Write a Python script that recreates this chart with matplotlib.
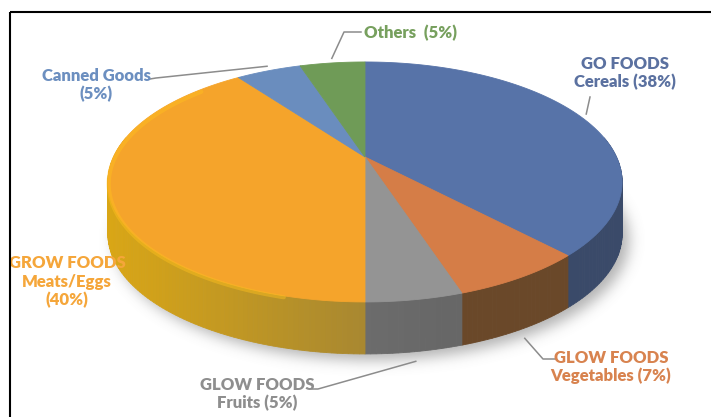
import numpy as np
import matplotlib.pyplot as plt
from matplotlib.patches import Polygon, Rectangle
from matplotlib.path import Path
from matplotlib.colors import to_rgb

# ---- data -------------------------------------------------------------
categories = ["GO FOODS Cereals", "GLOW FOODS Vegetables", "GLOW FOODS Fruits",
              "GROW FOODS Meats/Eggs", "Canned Goods", "Others"]
shares = [38, 7, 5, 40, 5, 5]
label_formats = ["GO FOODS\nCereals ({}%)", "GLOW FOODS\nVegetables ({}%)",
                 "GLOW FOODS\nFruits ({}%)", "GROW FOODS\nMeats/Eggs\n({}%)",
                 "Canned Goods\n({}%)", "Others  ({}%)"]

# ---- style ------------------------------------------------------------
top_colors = ["#5773A8", "#D57D47", "#949494", "#F5A42B", "#6A8DBE", "#6F9B57"]
wall_lit = ["#4B6189", "#8A5B31", "#7A7A7A", "#D9A616", "#56719A", "#5A7D46"]
wall_dark = ["#3A4A69", "#6A4829", "#676767", "#977D3A", "#56719A", "#5A7D46"]
text_colors = ["#5B71A0", "#D8834F", "#8E8E8E", "#F5A63A", "#6C8FC0", "#77A05E"]

# label centres and leader line points (pixels)
label_pos = [(625, 73), (611, 367), (257, 394), (67, 282), (96, 85), (411, 33)]
leader_pts = [[(590, 97)], [(555, 359), (543, 359)], [(312, 389), (318, 389)],
              None, [(150, 79), (156, 78)], [(361, 32), (344, 32)]]

W, H = 711, 417
fig = plt.figure(figsize=(W / 100, H / 100), dpi=100)
ax = fig.add_axes([0, 0, 1, 1])
ax.set_xlim(0, W)
ax.set_ylim(H, 0)
ax.axis("off")

CX, CY = 365, 157
A, B, K = 114.8, 251.5, 0.208
DEPTH = 52


def proj(theta_deg, r=1.0, drop=0.0):
    t = np.radians(theta_deg)
    u = r * np.sin(t)
    v = -r * np.cos(t)
    d = 1 - K * v
    return CX + B * u / d, CY + A * v / d + drop


def mix(c1, c2, t):
    a, b = np.array(to_rgb(c1)), np.array(to_rgb(c2))
    return tuple(a * t + b * (1 - t))


# soft shadow under the pie
th = np.linspace(0, 360, 361)
bx, by = proj(th, drop=DEPTH)
gx, gy = np.meshgrid(np.arange(W) + 0.5, np.arange(H) + 0.5)
pts = np.column_stack([gx.ravel(), gy.ravel()])
mask = Path(np.column_stack([bx + 7, by + 6])).contains_points(pts).reshape(H, W).astype(float)
ks = np.arange(-20, 21)
kern = np.exp(-ks ** 2 / (2 * 7.0 ** 2))
kern /= kern.sum()
mask = np.apply_along_axis(lambda r: np.convolve(r, kern, mode="same"), 1, mask)
mask = np.apply_along_axis(lambda c: np.convolve(c, kern, mode="same"), 0, mask)
shadow = np.zeros((H, W, 4))
shadow[..., :3] = 0.45
shadow[..., 3] = mask * 0.55
ax.imshow(shadow, extent=(0, W, H, 0), zorder=1, interpolation="bilinear")

# slice angles (clockwise from 12 o'clock)
bounds = np.concatenate([[0], np.cumsum(shares)]) / sum(shares) * 360

# side walls, back to front
strips = []
for i in range(len(shares)):
    a0, a1 = bounds[i], bounds[i + 1]
    lo, hi = max(a0, 80), min(a1, 280)
    if hi <= lo:
        continue
    for s in np.arange(lo, hi, 1.0):
        e = min(s + 1.0, hi)
        strips.append((-np.cos(np.radians((s + e) / 2)), i, s, e))
strips.sort()
for _, i, s, e in strips:
    x0, y0 = proj(s)
    x1, y1 = proj(e)
    lit = max(0.0, np.cos(np.radians((s + e) / 2 - 255)))
    col = mix(wall_lit[i], wall_dark[i], lit)
    ax.add_patch(Polygon([(x0, y0), (x1, y1), (x1, y1 + DEPTH), (x0, y0 + DEPTH)],
                         closed=True, facecolor=col, edgecolor=col, lw=0.6, zorder=2))

# top face
for i in range(len(shares)):
    arc = np.linspace(bounds[i], bounds[i + 1], 80)
    ax_, ay_ = proj(arc)
    poly = [(CX, CY)] + list(zip(ax_, ay_))
    ax.add_patch(Polygon(poly, closed=True, facecolor=top_colors[i],
                         edgecolor=top_colors[i], lw=0.6, zorder=3))

# soft bevel highlight along the left rim
hl = np.linspace(195, 312, 120)
hx, hy = proj(hl, r=0.997)
ax.plot(hx, hy + 2, color="#FFC01E", lw=3.0, alpha=0.45, zorder=4,
        solid_capstyle="round")

# labels and leader lines
for i in range(len(shares)):
    lx, ly = label_pos[i]
    ax.text(lx, ly, label_formats[i].format(shares[i]), ha="center", va="center",
            color=text_colors[i], fontsize=12, fontweight="heavy", family="Lato",
            linespacing=1.18, zorder=6)
    if leader_pts[i] is None:
        continue
    mid = (bounds[i] + bounds[i + 1]) / 2
    front = -np.cos(np.radians(mid)) > 0.5
    ex, ey = proj(mid, r=1.02, drop=DEPTH + 6 if front else -3)
    xs = [p[0] for p in leader_pts[i]] + [ex]
    ys = [p[1] for p in leader_pts[i]] + [ey]
    ax.plot(xs, ys, color="#8C8C8C", lw=1.1, zorder=5)

ax.add_patch(Rectangle((9.5, 11.5), 800, 500, fill=False, edgecolor="black",
                       lw=1.5, zorder=7))

fig.savefig("out.png", dpi=100)
